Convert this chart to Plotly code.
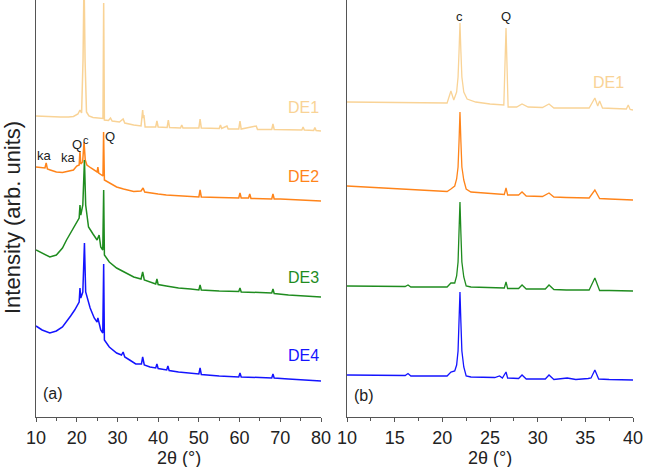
import plotly.graph_objects as go

# ---------------- DATA (2theta in degrees, intensity in arb. units) ----------------
# Panel (a)
a_de1_x = [10, 12, 14, 16, 18, 19.2, 20.3, 20.8, 21.2, 21.55, 21.8, 22.05, 22.4, 23, 24, 25, 26.45, 26.62, 26.8,
           27.8, 28.3, 28.7, 30.5, 31.4, 31.8, 34, 35.8, 36.2, 36.35, 36.5, 36.8, 39.4, 39.7, 40.0, 42.2, 42.5, 42.8,
           45.5, 45.8, 46.1, 50.0, 50.3, 50.6, 55.0, 55.3, 55.6, 56.9, 57.2, 59.8, 60.1, 60.4, 64.1, 64.4, 67.9,
           68.2, 68.5, 75.3, 75.6, 75.9, 78.2, 78.5, 78.8, 80]
a_de1_y = [301, 300.5, 300, 300, 300, 300.5, 303, 307, 304, 357, 440, 357, 305, 301, 299.5, 299, 298.5, 414, 297,
           296.5, 299, 296, 295, 298, 294, 292, 291, 307, 299, 302, 290, 290, 296, 290, 289.5, 297, 289.5,
           289, 292, 289, 289, 298, 289, 288.5, 292, 288.5, 291, 288, 288, 296, 288, 291, 287.5, 287.5,
           293, 287.5, 287, 290, 287, 286.5, 289.5, 286.5, 286]

a_de2_x = [10, 11.5, 12.2, 12.5, 12.8, 13.5, 15, 16.5, 18, 19.2, 20.0, 20.6, 20.8, 21.0, 21.45, 21.8, 22.1, 22.5,
           23.5, 24.5, 25.0, 25.2, 25.4, 26.45, 26.6, 26.8, 28, 29.8, 31.5, 34, 35.8, 36.3, 36.7, 38, 40, 42, 45,
           50.0, 50.3, 50.6, 55, 59.8, 60.1, 60.4, 62.2, 62.5, 62.8, 67.9, 68.2, 68.5, 70, 75, 80]
a_de2_y = [250, 249, 249, 254, 248, 247, 245, 244.5, 245.5, 247, 251, 252, 266, 253, 255, 275, 257, 252,
           249, 246, 245, 250, 244, 241, 285, 237, 234, 230, 228, 225.5, 226, 229, 225, 224, 223, 222, 221,
           220, 227, 220, 219.5, 219, 224, 219, 219, 223, 218.5, 218, 223, 218, 218, 217, 216]

a_de3_x = [10, 11.5, 13.4, 15, 16.5, 17.5, 18.5, 19.5, 20.3, 20.6, 20.8, 21.0, 21.5, 21.9, 22.2, 22.9, 24, 25,
           25.5, 25.9, 26.4, 26.62, 26.8, 28, 29.8, 32, 34, 35.8, 36.2, 36.6, 38, 39.4, 39.7, 40.0, 42, 45, 48,
           50.0, 50.3, 50.6, 55, 59.8, 60.1, 60.4, 65, 67.9, 68.2, 68.5, 72, 76, 80]
a_de3_y = [167, 164, 160, 162, 169, 177, 184, 191, 197, 199, 212, 202, 212, 257, 212, 190, 183, 177,
           182, 170, 167, 227, 162, 155, 149, 144, 140, 138, 145, 137, 135, 133, 138, 132.5, 131, 129, 128,
           127, 132, 127, 126, 125.5, 129, 125, 124.5, 124, 128, 123.5, 122, 121, 120]

a_de4_x = [10, 11.5, 13.4, 15, 16.5, 17.5, 18.5, 19.5, 20.3, 20.6, 20.8, 21.0, 21.5, 21.9, 22.2, 23.3, 24.3, 25.0,
           25.2, 25.5, 25.9, 26.4, 26.62, 26.8, 28, 29.8, 31.0, 31.4, 31.8, 33, 34.5, 35.9, 36.2, 36.6, 38, 39.4,
           39.7, 40.0, 42.1, 42.4, 42.7, 45, 48, 50.0, 50.3, 50.6, 55, 58, 59.8, 60.1, 60.4, 65, 67.9, 68.2, 68.5,
           72, 76, 80]
a_de4_y = [91, 87, 84, 86, 90, 95, 101, 107, 113, 115, 129, 119, 125, 174, 125, 109, 99, 95,
           99, 92, 87, 84, 153, 77, 70, 64, 62, 65, 60, 57, 53, 53, 60, 52, 50, 49,
           53, 48.5, 47, 51, 46.5, 45, 44, 43, 49, 42.5, 41, 40, 40, 44, 40, 39.5, 39, 43, 39,
           38, 37, 36]

# Panel (b)
b_de1_x = [10, 13, 16, 19, 20.5, 20.9, 21.2, 21.5, 21.65, 21.75, 21.85, 21.95, 22.05, 22.25, 22.6, 23.5, 25, 26.45,
           26.68, 26.9, 27.8, 28.36, 29.0, 30.5, 31.19, 31.7, 33, 35.4, 36.0, 36.3, 36.5, 36.8, 38, 39.3, 39.5,
           39.7, 40]
b_de1_y = [315, 314.5, 314, 314, 314, 326, 317, 325, 340, 365, 394, 365, 340, 325, 318, 315, 313, 312,
           389, 310, 310, 313, 310, 309.5, 313, 309, 309, 309, 319, 311, 316, 309, 308.5, 308, 312,
           307.5, 307]

b_de2_x = [10, 13, 16, 19, 20.5, 20.9, 21.3, 21.5, 21.65, 21.75, 21.85, 21.95, 22.05, 22.25, 22.5, 23, 25, 26.5,
           26.68, 26.85, 28.0, 28.36, 28.8, 30.5, 31.19, 31.7, 33, 35.4, 36.0, 36.5, 37.5, 40]
b_de2_y = [231, 229.5, 228, 226.5, 225.5, 228, 231, 238, 250, 275, 305, 275, 250, 237, 228, 225, 223.5, 222.5,
           229, 222, 222, 225, 221, 220.5, 224, 220, 219.5, 219, 227, 218.5, 218, 217]

b_de3_x = [10, 13, 16.1, 16.4, 16.7, 20.5, 20.9, 21.3, 21.5, 21.65, 21.75, 21.85, 21.95, 22.05, 22.25, 22.5, 23, 25,
           26.5, 26.68, 26.85, 28.0, 28.36, 28.8, 30.8, 31.19, 31.7, 33, 35.4, 36.0, 36.5, 37.5, 40]
b_de3_y = [131, 130.5, 130.5, 132, 130, 130, 134, 134, 141, 155, 183, 215, 183, 155, 140, 131, 130, 129.5,
           129, 135, 128.5, 128.5, 132, 128, 128, 132, 127.5, 127, 127, 139, 126.5, 126.5, 126]

b_de4_x = [10, 13, 16.1, 16.4, 16.7, 20.5, 20.9, 21.3, 21.5, 21.65, 21.75, 21.85, 21.95, 22.05, 22.25, 22.5, 23,
           25.5, 26.0, 26.3, 26.68, 26.85, 28.0, 28.36, 28.8, 30.8, 31.19, 31.7, 33.1, 34, 35.3, 35.6, 36.0, 36.4,
           37.5, 40]
b_de4_y = [42, 41.5, 41.5, 43.5, 41, 41, 45, 46, 52, 66, 94, 125, 94, 66, 50, 41, 40,
           39.5, 41, 39, 45, 39, 38.5, 42, 38, 38, 42, 37.5, 39, 37.5, 38.5, 39, 47, 38,
           37.5, 37]

a_names = ["DE1", "DE2", "DE3", "DE4"]
b_names = ["DE1", "DE2-C", "DE3-C", "DE4-C"]
colors = ["#F9D396", "#FF841A", "#1F8C1F", "#1414FF"]
a_label_y = [310, 241, 140, 62]
b_label_y = [335, 243, 150, 55]

a_x_ticks = [10, 20, 30, 40, 50, 60, 70, 80]
b_x_ticks = [10, 15, 20, 25, 30, 35, 40]

# peak labels: (text, 2theta, intensity, font size)
a_peaks = [("ka", 12.2, 262, 13), ("ka", 17.9, 260, 13), ("Q", 20.1, 273, 13), ("c", 22.3, 277, 11), ("Q", 28.2, 281, 13)]
b_peaks = [("c", 21.85, 401, 13), ("Q", 26.68, 401, 13)]

# ---------------- FIGURE ----------------
FONT = "Liberation Sans, Arial, sans-serif"
fig = go.Figure()

a_series = [(a_de1_x, a_de1_y), (a_de2_x, a_de2_y), (a_de3_x, a_de3_y), (a_de4_x, a_de4_y)]
b_series = [(b_de1_x, b_de1_y), (b_de2_x, b_de2_y), (b_de3_x, b_de3_y), (b_de4_x, b_de4_y)]

for (xs, ys), name, col in zip(a_series, a_names, colors):
    fig.add_trace(go.Scatter(x=xs, y=ys, mode="lines", name=name, line=dict(color=col, width=1.5),
                             xaxis="x", yaxis="y", showlegend=False))
for (xs, ys), name, col in zip(b_series, b_names, colors):
    fig.add_trace(go.Scatter(x=xs, y=ys, mode="lines", name=name, line=dict(color=col, width=1.3),
                             xaxis="x2", yaxis="y2", showlegend=False))

ann = []
for name, col, yv in zip(a_names, colors, a_label_y):
    ann.append(dict(x=80, y=yv, xref="x", yref="y", text=name, showarrow=False, xanchor="right",
                    yanchor="middle", font=dict(family=FONT, size=16, color=col)))
for name, col, yv in zip(b_names, colors, b_label_y):
    xr = 39.3 if name == "DE1" else 41.25
    ann.append(dict(x=xr, y=yv, xref="x2", yref="y2", text=name, showarrow=False, xanchor="right",
                    yanchor="middle", font=dict(family=FONT, size=16, color=col)))
for t, xv, yv, fs in a_peaks:
    ann.append(dict(x=xv, y=yv, xref="x", yref="y", text=t, showarrow=False, xanchor="center",
                    yanchor="middle", font=dict(family=FONT, size=fs, color="#222222")))
for t, xv, yv, fs in b_peaks:
    ann.append(dict(x=xv, y=yv, xref="x2", yref="y2", text=t, showarrow=False, xanchor="center",
                    yanchor="middle", font=dict(family=FONT, size=fs, color="#222222")))
ann.append(dict(x=11.2, y=24, xref="x", yref="y", text="(a)", showarrow=False, xanchor="left",
                yanchor="middle", font=dict(family=FONT, size=16, color="#222222")))
ann.append(dict(x=10.5, y=22, xref="x2", yref="y2", text="(b)", showarrow=False, xanchor="left",
                yanchor="middle", font=dict(family=FONT, size=16, color="#222222")))

# axis titles as annotations
d1 = [0, 285 / 597]
d2 = [311 / 597, 1]
ann.append(dict(x=(d1[0] + d1[1]) / 2, y=-41 / 417, xref="paper", yref="paper", text="2θ (°)", showarrow=False,
                xanchor="center", yanchor="middle", font=dict(family=FONT, size=18, color="#222222")))
ann.append(dict(x=(d2[0] + d2[1]) / 2, y=-41 / 417, xref="paper", yref="paper", text="2θ (°)", showarrow=False,
                xanchor="center", yanchor="middle", font=dict(family=FONT, size=18, color="#222222")))
ann.append(dict(x=-24 / 597, y=(417 - 218) / 417, xref="paper", yref="paper", text="Intensity (arb. units)",
                showarrow=False, textangle=-90, xanchor="center", yanchor="middle",
                font=dict(family=FONT, size=22, color="#222222")))

axis_common = dict(showline=True, linecolor="#555555", linewidth=1.4, showgrid=False, zeroline=False,
                   ticks="outside", ticklen=4, tickwidth=1.2, tickcolor="#555555",
                   tickfont=dict(family=FONT, size=18, color="#222222"))

fig.update_layout(
    width=645, height=467,
    margin=dict(l=36, r=12, t=0, b=50),
    plot_bgcolor="white", paper_bgcolor="white",
    xaxis=dict(domain=d1, range=[10, 80], tickvals=a_x_ticks, anchor="y",
               minor=dict(ticks="outside", ticklen=3, dtick=5, tick0=10, tickcolor="#555555"), **axis_common),
    xaxis2=dict(domain=d2, range=[10, 40], tickvals=b_x_ticks, anchor="y2",
                minor=dict(ticks="outside", ticklen=3, dtick=2.5, tick0=10, tickcolor="#555555"), **axis_common),
    yaxis=dict(domain=[0, 1], range=[0, 417], anchor="x", showline=True, linecolor="#555555", linewidth=1.4,
               showgrid=False, zeroline=False, showticklabels=False, ticks=""),
    yaxis2=dict(domain=[0, 1], range=[0, 417], anchor="x2", showline=True, linecolor="#555555", linewidth=1.4,
                showgrid=False, zeroline=False, showticklabels=False, ticks=""),
    annotations=ann,
)

fig.write_html("out.html")
